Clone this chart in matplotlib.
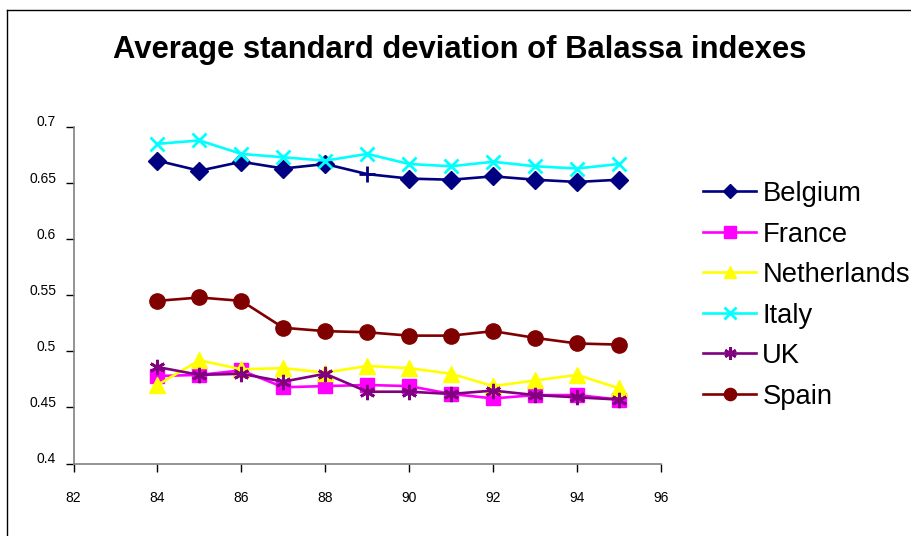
import matplotlib
matplotlib.use("Agg")
import matplotlib.pyplot as plt
import matplotlib.transforms as mtransforms
from matplotlib.lines import Line2D

plt.rcParams['font.family'] = ['Liberation Sans', 'DejaVu Sans']

years = [84, 85, 86, 87, 88, 89, 90, 91, 92, 93, 94, 95]
belgium = [0.670, 0.661, 0.669, 0.663, 0.667, 0.658, 0.654, 0.653, 0.656, 0.653, 0.651, 0.653]
france = [0.478, 0.479, 0.483, 0.468, 0.469, 0.470, 0.469, 0.462, 0.458, 0.461, 0.461, 0.457]
netherlands = [0.470, 0.492, 0.484, 0.485, 0.481, 0.487, 0.485, 0.480, 0.469, 0.474, 0.479, 0.467]
italy = [0.685, 0.688, 0.676, 0.673, 0.670, 0.676, 0.667, 0.665, 0.669, 0.665, 0.663, 0.667]
uk = [0.486, 0.479, 0.480, 0.473, 0.480, 0.464, 0.464, 0.462, 0.465, 0.461, 0.459, 0.457]
spain = [0.545, 0.548, 0.545, 0.521, 0.518, 0.517, 0.514, 0.514, 0.518, 0.512, 0.507, 0.506]
xticks = [82, 84, 86, 88, 90, 92, 94, 96]
yticks = [0.4, 0.45, 0.5, 0.55, 0.6, 0.65, 0.7]
title = "Average standard deviation of Balassa indexes"

fig = plt.figure(figsize=(9.11, 5.36), dpi=100)
ax = fig.add_axes([73.5/911, 1-463.5/536, (661-73.5)/911, (463.5-127)/536])

lw = 1.9
# Belgium: diamonds except the 1989 point, which is a plus sign
bel_idx = [i for i in range(len(years)) if years[i] != 89]
ax.plot(years, belgium, color='#000080', lw=lw, marker='D', markersize=9,
        markevery=bel_idx, label='Belgium')
ax.plot([years[5]], [belgium[5]], color='#000080', marker='+', markersize=11,
        mew=2, lw=0)
ax.plot(years, france, color='#FF00FF', lw=lw, marker='s', markersize=10, label='France')
ax.plot(years, netherlands, color='#FFFF00', lw=lw, marker='^', markersize=11, label='Netherlands')
ax.plot(years, italy, color='#00FFFF', lw=lw, marker='x', markersize=10, mew=2, label='Italy')
ax.plot(years, uk, color='#800080', lw=lw, marker=(6, 2, 0), markersize=11, mew=2, label='UK')
ax.plot(years, spain, color='#800000', lw=lw, marker='o', markersize=11, label='Spain')

ax.set_xlim(82, 96)
ax.set_ylim(0.4, 0.7)
ax.set_xticks(xticks)
ax.set_xticklabels([str(t) for t in xticks])
ax.set_yticks(yticks)
ax.set_yticklabels([f"{t:g}" for t in yticks])
for s in ['top', 'right']:
    ax.spines[s].set_visible(False)
for s in ['left', 'bottom']:
    ax.spines[s].set_color('#808080')
    ax.spines[s].set_linewidth(1.2)
ax.tick_params(axis='both', direction='out', length=5.5, width=1, color='black',
               labelsize=10, colors='black')
ax.tick_params(axis='x', pad=14)
ax.tick_params(axis='y', pad=7)
offset = mtransforms.ScaledTranslation(0, 6/100, fig.dpi_scale_trans)
for lab in ax.get_yticklabels():
    lab.set_transform(lab.get_transform() + offset)

fig.text(0.505, 1-50/536, title, ha='center', va='center', fontsize=22.3, fontweight='bold')

leg = fig.legend(loc='upper left', bbox_to_anchor=(703/911, 1-181/536), frameon=False,
                 fontsize=19.7, handlelength=1.95, handletextpad=0.22, labelspacing=0.53,
                 borderaxespad=0, borderpad=0, markerscale=0.8)

# outer chart border (left and top edges visible)
fig.add_artist(Line2D([7/911, 7/911], [0, 1-10/536], color='black', lw=1, transform=fig.transFigure))
fig.add_artist(Line2D([7/911, 1], [1-10/536, 1-10/536], color='black', lw=1, transform=fig.transFigure))

fig.savefig('out.png', dpi=100)
